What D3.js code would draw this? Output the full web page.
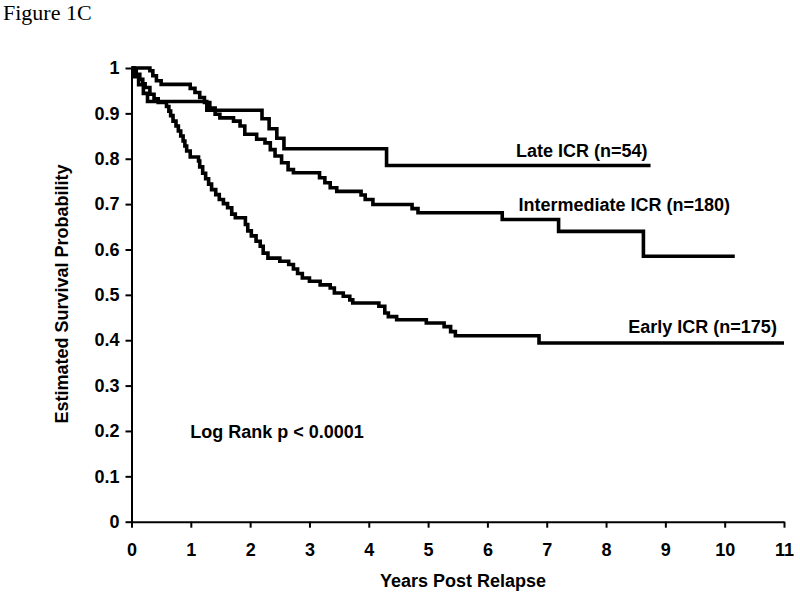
<!DOCTYPE html>
<html>
<head>
<meta charset="utf-8">
<style>
  body { margin: 0; background: #fff; }
  svg { display: block; }
  .axis path, .axis line { stroke: #000; stroke-width: 2; }
  .axis text { font-family: "Liberation Sans", Arial, sans-serif; font-weight: bold; font-size: 18px; fill: #000; }
  .curve { fill: none; stroke: #000; stroke-width: 3.6; stroke-linejoin: miter; }
  .lbl { font-family: "Liberation Sans", Arial, sans-serif; font-weight: bold; font-size: 18px; fill: #000; }
</style>
</head>
<body>
<svg id="chart" width="800" height="595"></svg>
<script src="https://cdn.jsdelivr.net/npm/d3@7"></script>
<script>
// Kaplan-Meier step points: [years, survival]
var lateICR = [
  [0, 1], [0.05, 0.981], [0.12, 0.963], [0.2, 0.944], [0.27, 0.926],
  [1.27, 0.907], [2.2, 0.888], [2.32, 0.866], [2.45, 0.845], [2.57, 0.822],
  [4.3, 0.785], [8.75, 0.785]
];

var intermediateICR = [
  [0, 1], [0.31, 0.994], [0.36, 0.983], [0.42, 0.972], [0.5, 0.964],
  [0.99, 0.955], [1.07, 0.946], [1.15, 0.935], [1.23, 0.924], [1.32, 0.912],
  [1.41, 0.898], [1.49, 0.89], [1.72, 0.883], [1.83, 0.872], [1.91, 0.854],
  [2.11, 0.843], [2.25, 0.835], [2.34, 0.82], [2.42, 0.806], [2.53, 0.791],
  [2.64, 0.776], [2.73, 0.769], [3.17, 0.758], [3.26, 0.747], [3.35, 0.736],
  [3.46, 0.728], [3.87, 0.72], [3.94, 0.71], [4.07, 0.699], [4.73, 0.69],
  [4.83, 0.681], [6.25, 0.666], [7.2, 0.64], [8.63, 0.585], [10.17, 0.585]
];

var earlyICR = [
  [0, 1], [0.03, 0.994], [0.08, 0.986], [0.14, 0.975], [0.19, 0.965],
  [0.23, 0.957], [0.31, 0.942], [0.38, 0.932], [0.45, 0.924], [0.59, 0.915],
  [0.63, 0.905], [0.66, 0.895], [0.7, 0.883], [0.75, 0.872], [0.79, 0.861],
  [0.83, 0.85], [0.87, 0.839], [0.9, 0.828], [0.93, 0.817], [0.99, 0.804],
  [1.13, 0.795], [1.15, 0.782], [1.2, 0.768], [1.25, 0.756], [1.3, 0.744],
  [1.35, 0.732], [1.42, 0.721], [1.48, 0.71], [1.55, 0.701], [1.62, 0.692],
  [1.69, 0.678], [1.75, 0.67], [1.92, 0.655], [1.96, 0.641], [2.02, 0.63],
  [2.1, 0.618], [2.17, 0.607], [2.22, 0.592], [2.3, 0.581], [2.5, 0.574],
  [2.65, 0.567], [2.73, 0.557], [2.8, 0.547], [2.88, 0.537], [3.0, 0.53],
  [3.18, 0.522], [3.35, 0.515], [3.42, 0.504], [3.57, 0.497], [3.68, 0.489],
  [3.73, 0.482], [4.17, 0.475], [4.27, 0.46], [4.33, 0.452], [4.47, 0.445],
  [4.97, 0.438], [5.27, 0.43], [5.38, 0.419], [5.46, 0.41], [6.87, 0.394],
  [11, 0.394]
];

var xTicks = d3.range(0, 12);
var yTicks = d3.range(0, 11).map(function (i) { return i / 10; });

var svg = d3.select("#chart");

var x = d3.scaleLinear().domain([0, 11]).range([131.5, 784]);
var y = d3.scaleLinear().domain([0, 1]).range([521.7, 68]);

// figure caption
svg.append("text")
  .attr("x", 3)
  .attr("y", 20)
  .attr("font-family", "'Liberation Serif', 'Times New Roman', serif")
  .attr("font-size", 22)
  .text("Figure 1C");

svg.append("g")
  .attr("class", "axis")
  .attr("transform", "translate(0," + y(0) + ")")
  .call(d3.axisBottom(x).tickValues(xTicks).tickSize(6).tickPadding(16).tickSizeOuter(0)
    .tickFormat(d3.format("d")));

svg.append("g")
  .attr("class", "axis")
  .attr("transform", "translate(" + x(0) + ",0)")
  .call(d3.axisLeft(y).tickValues(yTicks).tickSize(6).tickPadding(6).tickSizeOuter(0)
    .tickFormat(function (d) { return d === 0 || d === 1 ? d3.format("d")(d) : d3.format(".1f")(d); }));

var line = d3.line()
  .x(function (d) { return x(d[0]); })
  .y(function (d) { return y(d[1]); })
  .curve(d3.curveStepAfter);

[lateICR, intermediateICR, earlyICR].forEach(function (s) {
  svg.append("path").datum(s).attr("class", "curve").attr("d", line);
});

// curve labels
svg.append("text").attr("class", "lbl").attr("text-anchor", "end")
  .attr("x", x(8.7)).attr("y", y(0.804)).text("Late ICR (n=54)");
svg.append("text").attr("class", "lbl").attr("text-anchor", "end")
  .attr("x", x(10.09)).attr("y", y(0.684)).text("Intermediate ICR (n=180)");
svg.append("text").attr("class", "lbl").attr("text-anchor", "end")
  .attr("x", x(10.88)).attr("y", y(0.416)).text("Early ICR (n=175)");
svg.append("text").attr("class", "lbl").attr("font-size", 19)
  .attr("x", x(0.99)).attr("y", y(0.184)).text("Log Rank p < 0.0001");

// axis titles
svg.append("text").attr("class", "lbl").attr("text-anchor", "middle")
  .attr("font-size", 20)
  .attr("x", 463).attr("y", 587).text("Years Post Relapse");

svg.append("text").attr("class", "lbl").attr("text-anchor", "middle")
  .attr("font-size", 19)
  .attr("transform", "translate(68,294) rotate(-90)")
  .text("Estimated Survival Probability");
</script>
</body>
</html>
